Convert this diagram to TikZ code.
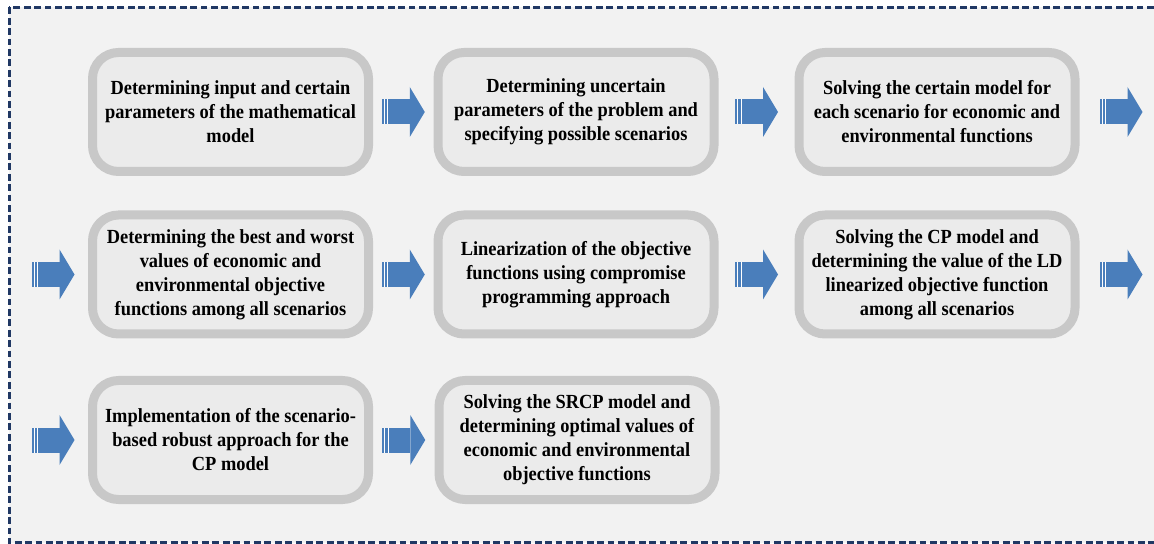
\documentclass[tikz,border=0pt]{standalone}
\usepackage{fontspec}
\setmainfont{Liberation Serif}[FakeStretch=0.92]
\usepackage{tikz}
\usetikzlibrary{calc,positioning}

\definecolor{framenavy}{RGB}{32,56,100}
\definecolor{panelgray}{RGB}{242,242,242}
\definecolor{boxfill}{RGB}{235,235,235}
\definecolor{boxrim}{RGB}{200,200,200}
\definecolor{arrowblue}{RGB}{74,126,187}

\tikzset{
	stepbox/.style={draw=boxrim,fill=boxfill,line width=4.5pt,rounded corners=13pt,
		minimum width=138pt,minimum height=59.5pt,inner sep=0pt,
		align=center,font=\bfseries\fontsize{10}{12}\selectfont},
	pics/blockarrow/.style={code={
		\fill[arrowblue] (-21.5,-12.5) rectangle (6.5,12.5);
		\fill[arrowblue] (6.5,-25) -- (21.5,0) -- (6.5,25) -- cycle;
		\draw[white,line width=.5pt] (-19,-12.5) -- (-19,12.5) (-15.5,-12.5) -- (-15.5,12.5);
	}}
}

\begin{document}
\begin{tikzpicture}[x=.5pt,y=-.5pt]
	\useasboundingbox (0,0) rectangle (1154,544);
	\clip (0,0) rectangle (1154,544);
	\fill[panelgray] (9,7.5) rectangle (1180,542.5);
	\draw[framenavy,line width=1.5pt,dash pattern=on 3.4pt off 1.8pt] (9,7.5) rectangle (1180,542.5);

	% first row
	\node[stepbox] (inp) at (230.5,112) {Determining input and certain\\parameters of the mathematical\\model};
	\node[stepbox] (unc) at (576,112) {Determining uncertain\\parameters of the problem and\\specifying possible scenarios};
	\node[stepbox] (scen) at (937,112) {Solving the certain model for\\each scenario for economic and\\environmental functions};

	% second row
	\node[stepbox] (best) at (230.5,274.5) {Determining the best and worst\\values of economic and\\environmental objective\\functions among all scenarios};
	\node[stepbox] (lin) at (576,274.5) {Linearization of the objective\\functions using compromise\\programming approach};
	\node[stepbox] (cp) at (937,274.5) {Solving the CP model and\\determining the value of the LD\\linearized objective function\\among all scenarios};

	% third row
	\node[stepbox] (rob) at (230.5,440) {Implementation of the scenario-\\based robust approach for the\\CP model};
	\node[stepbox] (srcp) at (577,440) {Solving the SRCP model and\\determining optimal values of\\economic and environmental\\objective functions};

	% block arrows
	\pic at ($(inp.east)!.5!(unc.west)$) {blockarrow};
	\pic at ($(unc.east)!.5!(scen.west)$) {blockarrow};
	\pic at ([xshift=20.75pt]scen.east) {blockarrow};
	\pic at ([xshift=-17.5pt]best.west) {blockarrow};
	\pic at ($(best.east)!.5!(lin.west)$) {blockarrow};
	\pic at ($(lin.east)!.5!(cp.west)$) {blockarrow};
	\pic at ([xshift=20.75pt]cp.east) {blockarrow};
	\pic at ([xshift=-17.5pt]rob.west) {blockarrow};
	\pic at ($(rob.east)!.5!(srcp.west)$) {blockarrow};
\end{tikzpicture}
\end{document}
